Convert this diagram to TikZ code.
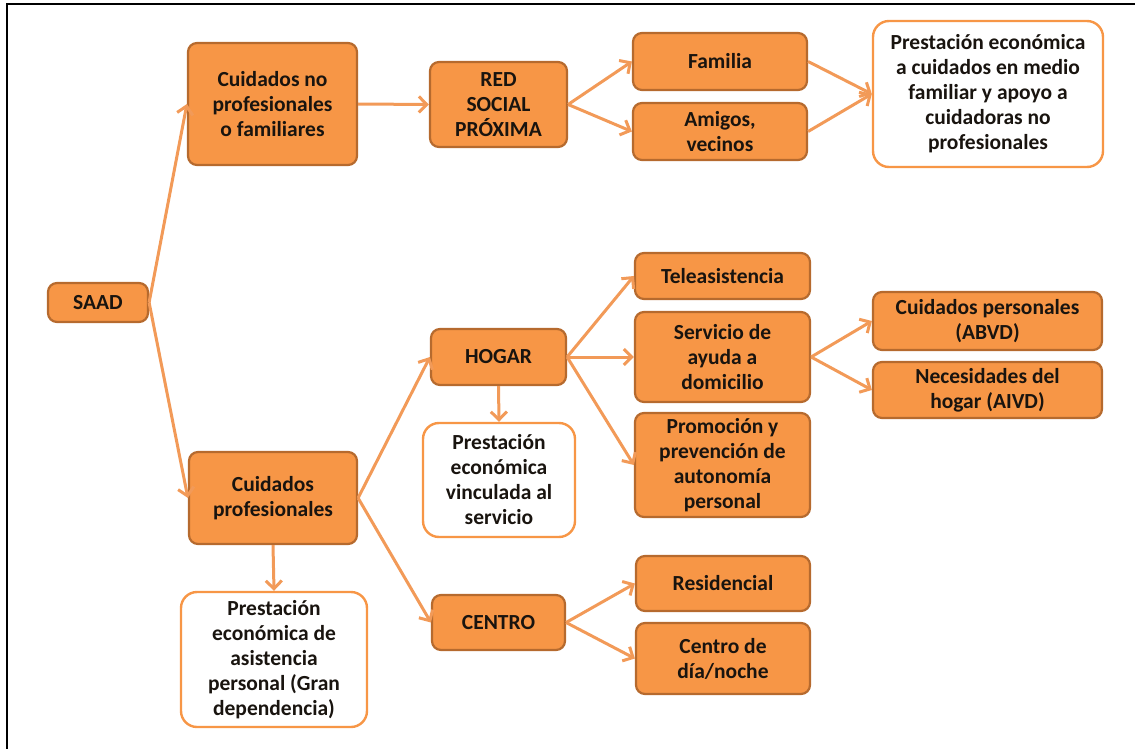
\documentclass[tikz,border=0pt]{standalone}
\usepackage{fontspec}
\setmainfont{Carlito}
\usetikzlibrary{arrows.meta}

\definecolor{boxfill}{RGB}{247,150,70}
\definecolor{boxedge}{RGB}{182,106,46}
\definecolor{linkcol}{RGB}{242,154,88}
\definecolor{ink}{RGB}{25,20,15}

\tikzset{
  base/.style={line width=2.2pt, rounded corners=9pt, align=center, inner sep=0pt,
    text=ink, font=\bfseries\fontsize{21.5}{25}\selectfont},
  solidbox/.style={base, draw=boxedge, fill=boxfill},
  openbox/.style={base, draw=boxfill, fill=white, line width=2.4pt, rounded corners=16pt},
  link/.style={draw=linkcol, line width=3pt,
    -{Straight Barb[length=8pt,width=16pt,line width=3pt]}},
}

\begin{document}
\begin{tikzpicture}[x=1pt,y=-1pt]
\useasboundingbox (0,0) rectangle (1135,749);
\draw[line width=2pt] (7,749) -- (7,4.5) -- (1135,4.5);

% top branch: informal care
\node[solidbox, minimum width=100pt, minimum height=39pt] (saad) at (98,302.5) {SAAD};
\node[solidbox, minimum width=169pt, minimum height=122pt] (cnp) at (272.5,104) {Cuidados no\\profesionales\\o familiares};
\node[solidbox, minimum width=137pt, minimum height=85pt] (red) at (498.5,104.5) {RED\\SOCIAL\\PRÓXIMA};
\node[solidbox, minimum width=174pt, minimum height=57pt] (fam) at (720,61.5) {Familia};
\node[solidbox, minimum width=174pt, minimum height=57pt] (ami) at (720,131.5) {Amigos,\\vecinos};
\node[openbox, minimum width=230pt, minimum height=146pt] (pecf) at (988,94) {Prestación económica\\a cuidados en medio\\familiar y apoyo a\\cuidadoras no\\profesionales};

% lower branch: professional care
\node[solidbox, minimum width=168pt, minimum height=92pt] (cp) at (273,498) {Cuidados\\profesionales};
\node[openbox, minimum width=186pt, minimum height=135pt] (pap) at (274,659.5) {Prestación\\económica de\\asistencia\\personal (Gran\\dependencia)};
\node[solidbox, minimum width=135pt, minimum height=56pt] (hog) at (498.5,357) {HOGAR};
\node[openbox, minimum width=152pt, minimum height=114pt] (pvs) at (499,480) {Prestación\\económica\\vinculada  al\\servicio};
\node[solidbox, minimum width=175pt, minimum height=46pt] (tel) at (722.5,276) {Teleasistencia};
\node[solidbox, minimum width=175pt, minimum height=90pt] (sad) at (722.5,357) {Servicio de\\ayuda a\\domicilio};
\node[solidbox, minimum width=175pt, minimum height=104pt] (pro) at (722.5,465) {Promoción y\\prevención de\\autonomía\\personal};
\node[solidbox, minimum width=229pt, minimum height=58pt] (abvd) at (987.5,321) {Cuidados personales\\(ABVD)};
\node[solidbox, minimum width=229pt, minimum height=56pt] (aivd) at (987.5,390) {Necesidades del\\hogar (AIVD)};
\node[solidbox, minimum width=133pt, minimum height=55pt] (cen) at (498.5,622.5) {CENTRO};
\node[solidbox, minimum width=174pt, minimum height=55pt] (res) at (723,583.5) {Residencial};
\node[solidbox, minimum width=174pt, minimum height=71pt] (dia) at (723,658.5) {Centro de\\día/noche};

% connectors
\draw[link] (saad.east) -- (cnp.west);
\draw[link] (saad.east) -- (cp.west);
\draw[link] (cnp.east) -- (red.west);
\draw[link] (red.east) -- (fam.west);
\draw[link] (red.east) -- (ami.west);
\draw[link] (fam.east) -- (pecf.west);
\draw[link] (ami.east) -- (pecf.west);
\draw[link] (cp.south) -- (pap.north);
\draw[link] (cp.east) -- (hog.west);
\draw[link] (cp.east) -- (cen.west);
\draw[link] (hog.south) -- (pvs.north);
\draw[link] (hog.east) -- (tel.west);
\draw[link] (hog.east) -- (sad.west);
\draw[link] (hog.east) -- (pro.west);
\draw[link] (sad.east) -- (abvd.west);
\draw[link] (sad.east) -- (aivd.west);
\draw[link] (cen.east) -- (res.west);
\draw[link] (cen.east) -- (dia.west);
\end{tikzpicture}
\end{document}
